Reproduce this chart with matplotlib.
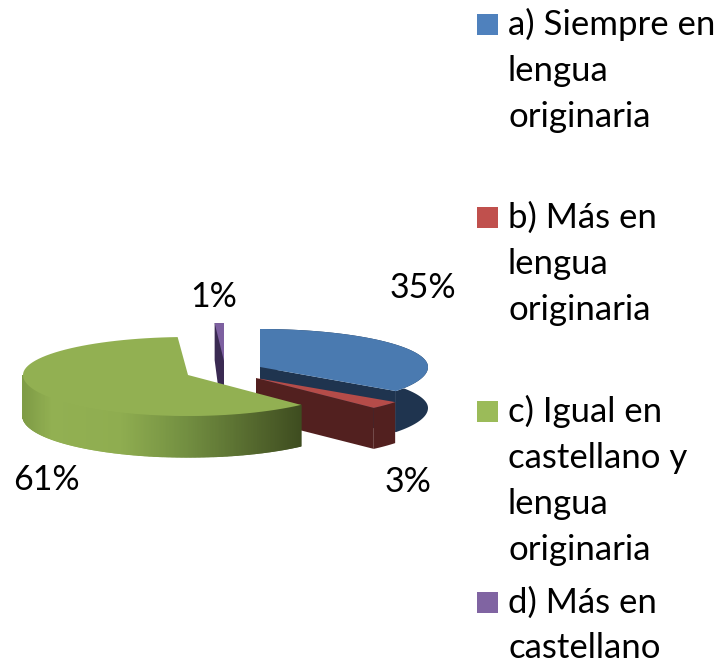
import numpy as np
import matplotlib
matplotlib.use("Agg")
import matplotlib.pyplot as plt
from matplotlib.colors import LinearSegmentedColormap

# Datos
categorias = ["a) Siempre en\nlengua\noriginaria", "b) Más en\nlengua\noriginaria",
              "c) Igual en\ncastellano y\nlengua\noriginaria", "d) Más en\ncastellano"]
valores = [35, 3, 61, 1]
etiquetas = ["35%", "3%", "61%", "1%"]

colores = ["#4a7ab0", "#b54c49", "#92b052", "#7d60a0"]
colores_ley = ["#4f81bd", "#c0504d", "#9bbb59", "#8064a2"]
lados = ["#1f344f", "#52201f", "#5f7a34", "#3a2a52"]
centros = [(260, 367), (256, 378), (188, 375), (224, 361)]
radios = [168, 172, 165, 165]
pos_etiq = [(423, 298), (408, 492), (46, 490), (214, 307)]
pos_ley = [14, 207, 401, 592]
interlineas = [46, 46, 46, 45]

RY, RY_FRENTE, ALTO = 38, 41, 41

plt.rcParams["font.family"] = ["Lato", "DejaVu Sans"]
fig = plt.figure(figsize=(7.18, 6.65), dpi=100)
ax = fig.add_axes([0, 0, 1, 1])
ax.set_xlim(0, 718)
ax.set_ylim(665, 0)
ax.axis("off")

# angulos de cada porcion, en sentido horario desde arriba
fin = np.cumsum(valores) / sum(valores) * 2 * np.pi
ini = np.r_[0, fin[:-1]]


def arco(i, a0, a1, n=80):
    c = centros[i]
    t = np.linspace(a0, a1, n)
    co = np.cos(t)
    # la parte de delante se ve algo mas grande
    return c[0] + radios[i] * np.sin(t), c[1] - np.where(co > 0, RY, RY_FRENTE) * co


verde_cmap = LinearSegmentedColormap.from_list(
    "verde", [(0, "#7f9c46"), (0.1, "#92b052"), (0.35, "#8fad50"), (0.6, "#718d40"), (1, "#3f4d20")])


def porcion(i, z):
    c = centros[i]
    x, y = arco(i, ini[i], fin[i])
    if i == 2:
        # pared con degradado, solo lo que se ve de frente
        xs, ys = arco(i, ini[i], np.pi * 1.5, 300)
        for k in range(len(xs) - 1):
            col = verde_cmap((xs[k] - xs.min()) / (xs.max() - xs.min()))
            ax.fill([xs[k], xs[k + 1], xs[k + 1], xs[k]],
                    [ys[k], ys[k + 1], ys[k + 1] + ALTO, ys[k] + ALTO],
                    facecolor=col, edgecolor=col, lw=1, zorder=z)
    else:
        # cara del corte y pared exterior
        ex, ey = x[-1], y[-1]
        ax.fill([c[0], ex, ex, c[0]], [c[1], ey, ey + ALTO, c[1] + ALTO],
                color=lados[i], lw=0, zorder=z)
        ax.fill(np.r_[x, x[::-1]], np.r_[y, y[::-1] + ALTO], color=lados[i], lw=0, zorder=z)
    ax.fill(np.r_[c[0], x], np.r_[c[1], y], color=colores[i], lw=0, zorder=z + 0.5)


porcion(0, 2)
# la porcion d) se ve casi de canto: cara oscura y triangulo claro
c = centros[3]
x, y = arco(3, ini[3], fin[3], 10)
ax.fill([x[0] + 1, x[-1], c[0], c[0] - 4, x[0] + 1],
        [y[0], y[-1], c[1] + ALTO, c[1] + ALTO - 1, y[0] + 37],
        color=lados[3], lw=0, zorder=1)
ax.fill([x[0] + 1, x[-1], c[0]], [y[0], y[-1], c[1]], color=colores[3], lw=0, zorder=1.5)
porcion(1, 3)
porcion(2, 4)

for (px, py), t in zip(pos_etiq, etiquetas):
    ax.text(px, py, t, fontsize=24.5, ha="center", va="baseline", color="black", zorder=10)

# Leyenda
for col, y0, cat, paso in zip(colores_ley, pos_ley, categorias, interlineas):
    ax.fill([477, 498, 498, 477], [y0, y0, y0 + 21, y0 + 21], color=col, lw=0)
    for j, linea in enumerate(cat.split("\n")):
        ax.text(508, y0 + 21 + j * paso, linea, fontsize=25, ha="left", va="baseline", color="black")

fig.savefig("out.png", dpi=100)
